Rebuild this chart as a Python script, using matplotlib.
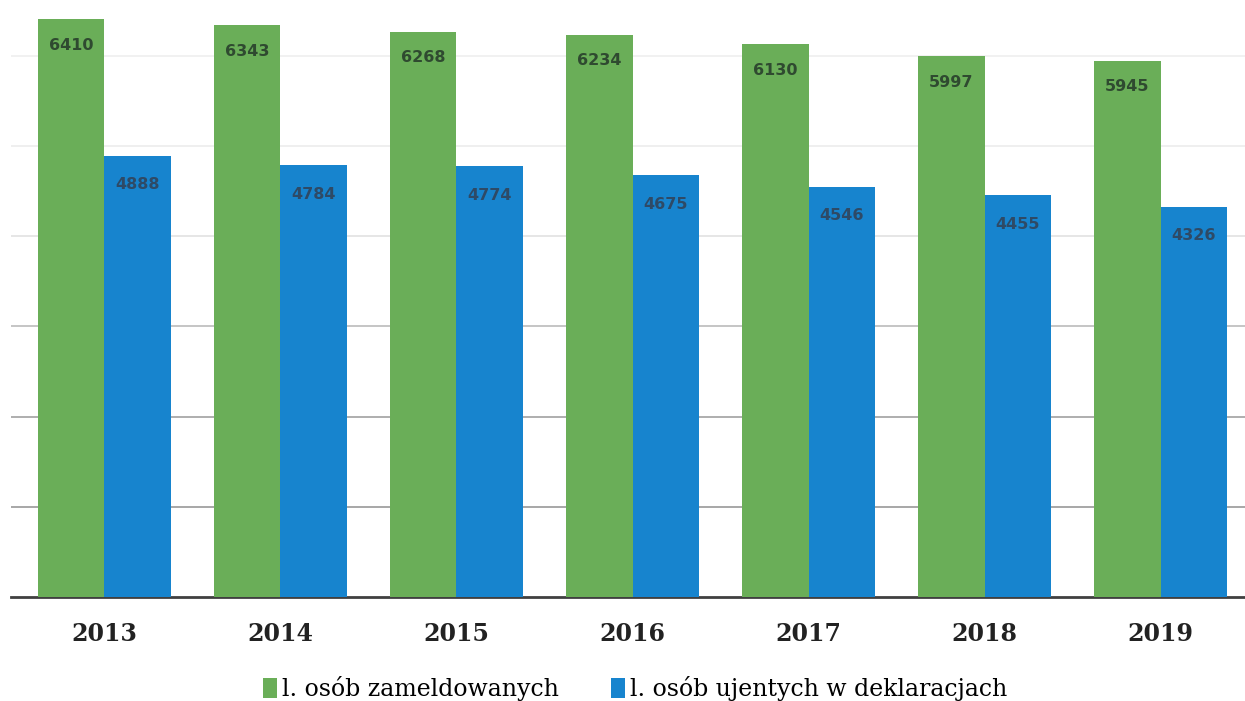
import matplotlib.pyplot as plt
import numpy as np

# dane z wykresu
years = ['2013', '2014', '2015', '2016', '2017', '2018', '2019']
zameldowani = [6410, 6343, 6268, 6234, 6130, 5997, 5945]
w_deklaracjach = [4888, 4784, 4774, 4675, 4546, 4455, 4326]
label_green = 'l. osób zameldowanych'
label_blue = 'l. osób ujentych w deklaracjach'
grid_levels = [1000, 2000, 3000, 4000, 5000, 6000]

green = '#6aae58'
blue = '#1784ce'

fig = plt.figure(figsize=(12.45, 7.01), dpi=100)
ax = fig.add_axes([0.009, 0.1484, 0.991, 0.8516])

x = np.arange(len(years))
w = 0.38
b1 = ax.bar(x - w / 2, zameldowani, w, color=green, label=label_green, zorder=3)
b2 = ax.bar(x + w / 2, w_deklaracjach, w, color=blue, label=label_blue, zorder=3)

# etykiety wartosci w slupkach
for rect, v in zip(b1, zameldowani):
    ax.text(rect.get_x() + rect.get_width() / 2, v - 290, str(v),
            ha='center', va='center', fontsize=11.5, fontweight='bold', color='#2f4a30', zorder=4)
for rect, v in zip(b2, w_deklaracjach):
    ax.text(rect.get_x() + rect.get_width() / 2, v - 320, str(v),
            ha='center', va='center', fontsize=11.5, fontweight='bold', color='#2e4a66', zorder=4)

ax.set_xlim(-0.53, 6.48)
ax.set_ylim(0, 6619)
# linie siatki - dolne ciemniejsze, gorne prawie niewidoczne (skan)
grid_colors = ['#a0a0a0', '#a8a8a8', '#c0c0c0', '#e4e4e4', '#eeeeee', '#f0f0f0']
for lvl, c in zip(grid_levels, grid_colors):
    ax.axhline(lvl, color=c, linewidth=1.3, zorder=0)
ax.set_yticks([])
ax.tick_params(axis='x', length=0, pad=18)
ax.set_xticks(x)
ax.set_xticklabels(years, fontsize=17, fontweight='bold', family='DejaVu Serif', color='#222222')

for s in ['top', 'right', 'left']:
    ax.spines[s].set_visible(False)
ax.spines['bottom'].set_color('#404040')
ax.spines['bottom'].set_linewidth(2)

fig.legend(handles=[b1, b2], labels=[label_green, label_blue], loc='center',
           bbox_to_anchor=(0.51, 0.018), ncol=2, frameon=False,
           prop={'family': 'DejaVu Serif', 'size': 17},
           handlelength=0.6, handleheight=0.9, handletextpad=0.2, columnspacing=2.2)

fig.savefig('out.png', dpi=100)
